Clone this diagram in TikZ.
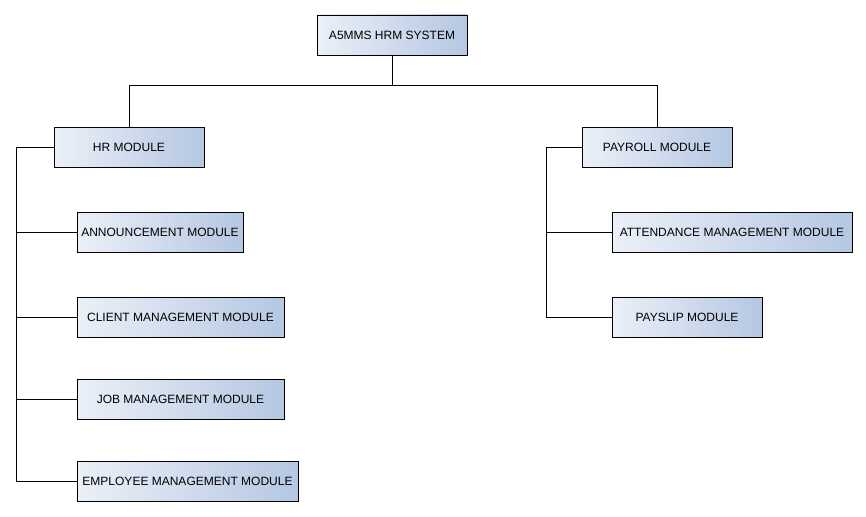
\documentclass[tikz,border=0pt]{standalone}
\usepackage{fontspec}
\setmainfont{Liberation Sans}
\usepackage{tikz}

\definecolor{boxleft}{HTML}{EBF0F8}
\definecolor{boxright}{HTML}{B5C7E2}

\tikzset{
	module/.style={draw=black, line width=0.8pt, rectangle, left color=boxleft, right color=boxright,
		minimum height=40pt, inner sep=0pt, font=\fontsize{12}{14}\selectfont},
	link/.style={black, line width=0.8pt}
}

\begin{document}
\begin{tikzpicture}[x=1pt, y=-1pt]

	\useasboundingbox (0, 0) rectangle (866, 516);

	% Draw the boxes
	\node[module, minimum width=150pt] (hrm) at (392, 35) {A5MMS HRM SYSTEM};
	\node[module, minimum width=150pt] (hr) at (129, 147) {HR MODULE};
	\node[module, minimum width=150pt] (payroll) at (657, 147) {PAYROLL MODULE};

	\node[module, minimum width=166pt] (announce) at (160, 232) {ANNOUNCEMENT MODULE};
	\node[module, minimum width=207pt] (client) at (180.5, 317) {CLIENT MANAGEMENT MODULE};
	\node[module, minimum width=207pt] (job) at (180.5, 399) {JOB MANAGEMENT MODULE};
	\node[module, minimum width=221pt] (employee) at (187.5, 481) {EMPLOYEE MANAGEMENT MODULE};

	\node[module, minimum width=240pt] (attend) at (732, 232) {ATTENDANCE MANAGEMENT MODULE};
	\node[module, minimum width=150pt] (payslip) at (687, 317) {PAYSLIP MODULE};

	\coordinate (split) at (392, 85);
	\coordinate (hrbus) at (16, 147);
	\coordinate (paybus) at (546, 147);

	% Draw the top branches
	\draw[link] (hrm.south) -- (split) -| (hr.north);
	\draw[link] (split) -| (payroll.north);

	% Draw the left bus
	\draw[link] (hr.west) -- (hrbus) |- (announce.west);
	\draw[link] (hrbus) |- (client.west);
	\draw[link] (hrbus) |- (job.west);
	\draw[link] (hrbus) |- (employee.west);

	% Draw the right bus
	\draw[link] (payroll.west) -- (paybus) |- (attend.west);
	\draw[link] (paybus) |- (payslip.west);

\end{tikzpicture}
\end{document}
